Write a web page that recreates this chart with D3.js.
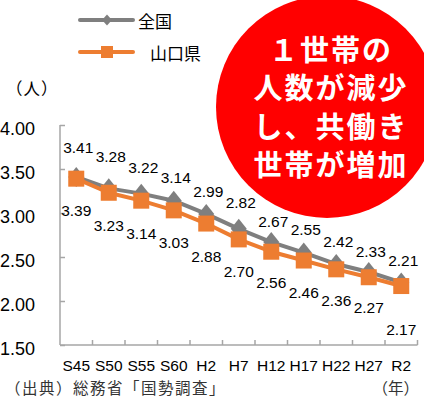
<!DOCTYPE html>
<html><head><meta charset="utf-8">
<script src="https://cdn.jsdelivr.net/npm/d3@7"></script>
<style>body{margin:0;background:#fff}svg{display:block}</style>
</head><body>
<script>
// ---- data ----
const categories = ["S45","S50","S55","S60","H2","H7","H12","H17","H22","H27","R2"];
const national = [3.41,3.28,3.22,3.14,2.99,2.82,2.67,2.55,2.42,2.33,2.21];
const yamaguchi = [3.39,3.23,3.14,3.03,2.88,2.70,2.56,2.46,2.36,2.27,2.17];
const yTicks = [1.5,2.0,2.5,3.0,3.5,4.0];
const seriesNames = ["全国","山口県"];
const calloutLines = ["１世帯の","人数が減少","し、共働き","世帯が増加"];
const unitLabel = "（人）";
const yearLabel = "（年）";
const sourceLabel = "（出典）総務省「国勢調査」";

// ---- layout ----
const W = 424, H = 398;
const GRAY = "#7f7f7f", ORANGE = "#ed7d31", AXIS = "#a6a6a6";
const NUM_FONT = "'Liberation Sans', Arial, sans-serif";
const JP_FONT = "'Noto Sans CJK JP', 'Noto Sans', sans-serif";
// label vertical nudges (layout only)
const grayDy = [-24,-26,-21,-18,-17,-21,-15,-18,-17,-15,-17];
const orangeDy = [37,38,38,38,38,38,36,37,37,36,49];

const svg = d3.select("body").append("svg").attr("width", W).attr("height", H);

const x = d3.scaleBand().domain(categories).range([60, 417.5]);
const y = d3.scaleLinear().domain([1.5, 4]).range([345, 125]);
const cx = c => x(c) + x.bandwidth() / 2;

// y axis
const yAxis = svg.append("g").attr("transform", "translate(60,0)")
  .call(d3.axisLeft(y).tickValues(yTicks).tickFormat(d3.format(".2f")).tickSize(-5).tickPadding(25));
yAxis.select(".domain").attr("stroke", AXIS).attr("stroke-width", 1.5).attr("d", `M0,${y(4)}V${y(1.5)}`);
yAxis.selectAll(".tick line").attr("stroke", AXIS).attr("stroke-width", 1.5);
yAxis.selectAll(".tick text").attr("fill", "#000").attr("font-size", 18)
  .attr("font-family", NUM_FONT).attr("dy", "0.55em");

// x axis labels
const xAxis = svg.append("g").attr("transform", `translate(0,${y(1.5)})`)
  .call(d3.axisBottom(x).tickSize(0).tickPadding(15));
xAxis.select(".domain").remove();
xAxis.selectAll(".tick text").attr("fill", "#000").attr("font-size", 15.5).attr("font-family", NUM_FONT);
// x axis line + boundary ticks
svg.append("line").attr("x1", 60).attr("x2", x.range()[1]).attr("y1", y(1.5)).attr("y2", y(1.5))
  .attr("stroke", AXIS).attr("stroke-width", 1.5);
const bounds = categories.slice(1).map(c => x(c)).concat([x.range()[1]]);
svg.selectAll(".xb").data(bounds).join("line")
  .attr("x1", d => d).attr("x2", d => d).attr("y1", y(1.5)).attr("y2", y(1.5) - 5)
  .attr("stroke", AXIS).attr("stroke-width", 1.5);

// lines
const line = d3.line().x((d, i) => cx(categories[i])).y(d => y(d));
svg.append("path").datum(national).attr("d", line).attr("fill", "none")
  .attr("stroke", GRAY).attr("stroke-width", 4).attr("stroke-linejoin", "round");
svg.selectAll(".gm").data(national).join("path")
  .attr("d", (d, i) => { const px = cx(categories[i]), py = y(d);
    return `M${px},${py-10}L${px+8},${py}L${px},${py+10}L${px-8},${py}Z`; })
  .attr("fill", GRAY);
svg.append("path").datum(yamaguchi).attr("d", line).attr("fill", "none")
  .attr("stroke", ORANGE).attr("stroke-width", 4).attr("stroke-linejoin", "round");
svg.selectAll(".om").data(yamaguchi).join("rect")
  .attr("x", (d, i) => cx(categories[i]) - 8).attr("y", d => y(d) - 8)
  .attr("width", 16).attr("height", 16).attr("fill", ORANGE);

// data labels
svg.selectAll(".gl").data(national).join("text")
  .attr("x", (d, i) => cx(categories[i]) + 2).attr("y", (d, i) => y(d) + grayDy[i])
  .attr("text-anchor", "middle").attr("font-size", 15.5).attr("font-family", NUM_FONT)
  .text(d => d.toFixed(2));
svg.selectAll(".ol").data(yamaguchi).join("text")
  .attr("x", (d, i) => cx(categories[i])).attr("y", (d, i) => y(d) + orangeDy[i])
  .attr("text-anchor", "middle").attr("font-size", 15.5).attr("font-family", NUM_FONT)
  .text(d => d.toFixed(2));

// legend
const lg = svg.append("g");
lg.append("line").attr("x1", 80).attr("x2", 133).attr("y1", 20).attr("y2", 20)
  .attr("stroke", GRAY).attr("stroke-width", 4).attr("stroke-linecap", "round");
lg.append("path").attr("d", "M107,14.5L112,20L107,25.5L102,20Z").attr("fill", GRAY);
lg.append("text").attr("x", 138).attr("y", 20).attr("dominant-baseline", "central")
  .attr("font-size", 17).attr("font-family", JP_FONT).text(seriesNames[0]);
lg.append("line").attr("x1", 80).attr("x2", 133).attr("y1", 52).attr("y2", 52)
  .attr("stroke", ORANGE).attr("stroke-width", 4).attr("stroke-linecap", "round");
lg.append("rect").attr("x", 101).attr("y", 46).attr("width", 12).attr("height", 12).attr("fill", ORANGE);
lg.append("text").attr("x", 150).attr("y", 52).attr("dominant-baseline", "central")
  .attr("font-size", 17).attr("font-family", JP_FONT).text(seriesNames[1]);

// unit, source, year
svg.append("text").attr("x", 6).attr("y", 88).attr("dominant-baseline", "central")
  .attr("font-size", 16.5).attr("letter-spacing", 1).attr("font-family", JP_FONT).text(unitLabel);
svg.append("text").attr("x", 5).attr("y", 387).attr("dominant-baseline", "central")
  .attr("font-size", 15.5).attr("letter-spacing", 1.5).attr("font-family", JP_FONT).attr("fill", "#333").text(sourceLabel);
svg.append("text").attr("x", 419).attr("y", 387).attr("dominant-baseline", "central")
  .attr("text-anchor", "end").attr("font-size", 15.5).attr("font-family", JP_FONT).attr("fill", "#333").text(yearLabel);

// callout
svg.append("circle").attr("cx", 327).attr("cy", 107).attr("r", 111).attr("fill", "#ff0000");
svg.selectAll(".cl").data(calloutLines).join("text")
  .attr("x", 331).attr("y", (d, i) => 48 + i * 38.3).attr("dominant-baseline", "central")
  .attr("text-anchor", "middle").attr("font-size", 29).attr("font-weight", "bold")
  .attr("letter-spacing", 2).attr("font-family", JP_FONT).attr("fill", "#fff").text(d => d);
</script>
</body></html>
